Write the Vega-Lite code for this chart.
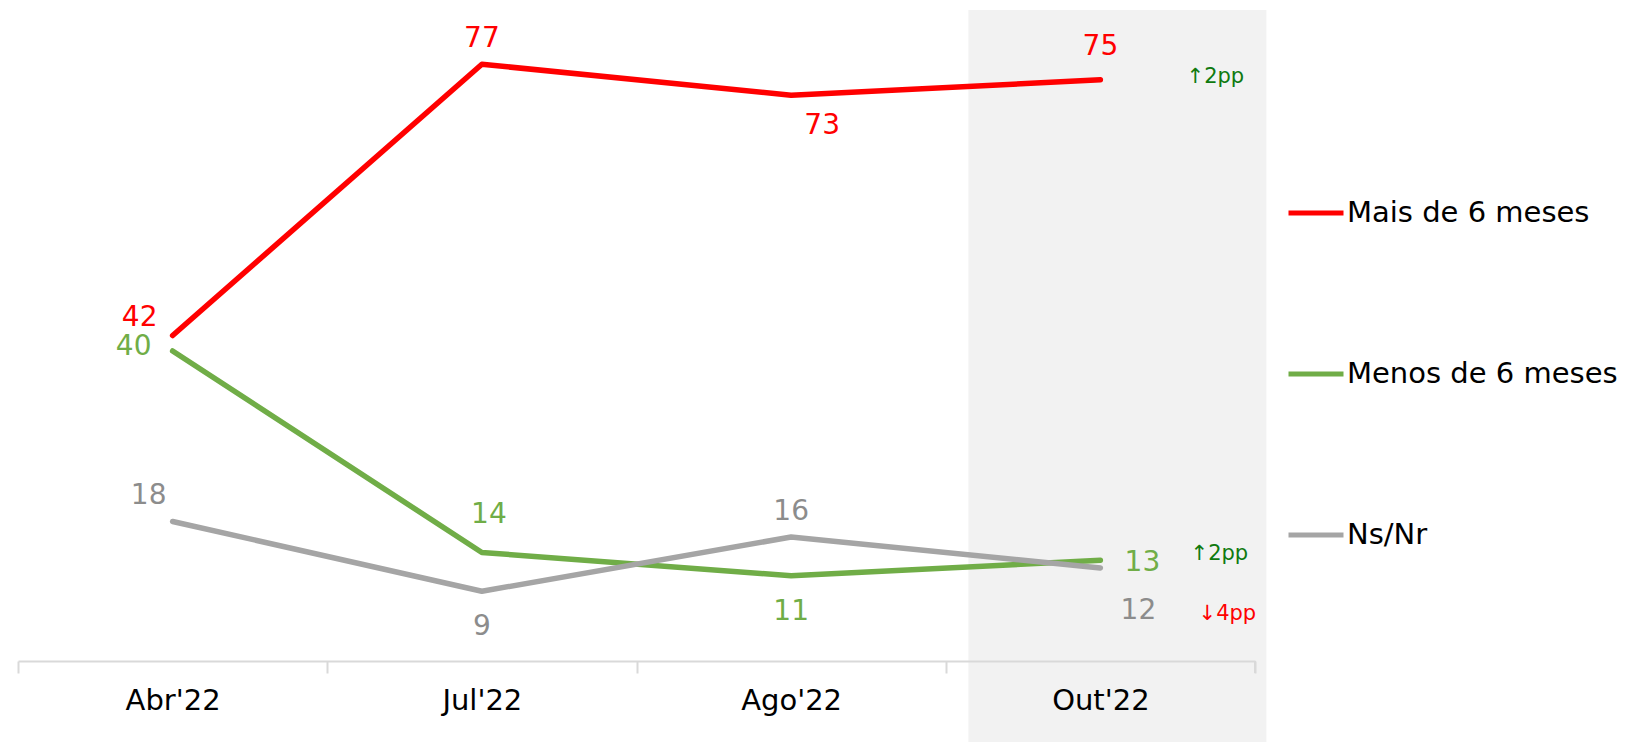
{
  "$schema": "https://vega.github.io/schema/vega-lite/v6.json",
  "width": 1237,
  "height": 651,
  "autosize": {"type": "none"},
  "padding": {"left": 18, "top": 10, "right": 384, "bottom": 81},
  "background": "#ffffff",
  "config": {"view": {"stroke": null}, "font": "DejaVu Sans"},
  "data": {
    "values": [
      {"mes": "Abr'22", "serie": "Mais de 6 meses", "valor": 42, "var": null},
      {"mes": "Jul'22", "serie": "Mais de 6 meses", "valor": 77, "var": null},
      {"mes": "Ago'22", "serie": "Mais de 6 meses", "valor": 73, "var": null},
      {"mes": "Out'22", "serie": "Mais de 6 meses", "valor": 75, "var": "↑2pp"},
      {"mes": "Abr'22", "serie": "Menos de 6 meses", "valor": 40, "var": null},
      {"mes": "Jul'22", "serie": "Menos de 6 meses", "valor": 14, "var": null},
      {"mes": "Ago'22", "serie": "Menos de 6 meses", "valor": 11, "var": null},
      {"mes": "Out'22", "serie": "Menos de 6 meses", "valor": 13, "var": "↑2pp"},
      {"mes": "Abr'22", "serie": "Ns/Nr", "valor": 18, "var": null},
      {"mes": "Jul'22", "serie": "Ns/Nr", "valor": 9, "var": null},
      {"mes": "Ago'22", "serie": "Ns/Nr", "valor": 16, "var": null},
      {"mes": "Out'22", "serie": "Ns/Nr", "valor": 12, "var": "↓4pp"}
    ]
  },
  "encoding": {
    "x": {
      "field": "mes",
      "type": "ordinal",
      "sort": ["Abr'22", "Jul'22", "Ago'22", "Out'22"],
      "scale": {"paddingInner": 0, "paddingOuter": 0},
      "axis": {
        "title": null,
        "labelAngle": 0,
        "labelFont": "DejaVu Sans",
        "labelFontSize": 29,
        "labelColor": "#000000",
        "labelPadding": 13,
        "domainColor": "#d9d9d9",
        "domainWidth": 2,
        "tickColor": "#d9d9d9",
        "tickWidth": 2,
        "tickSize": 12,
        "tickBand": "extent",
        "grid": false,
        "zindex": 1
      }
    },
    "y": {
      "field": "valor",
      "type": "quantitative",
      "scale": {"domain": [0, 84], "nice": false, "zero": true},
      "axis": null
    }
  },
  "layer": [
    {
      "transform": [{"filter": "datum.mes === \"Out'22\" && datum.serie === 'Ns/Nr'"}],
      "mark": {"type": "bar", "color": "#f2f2f2", "width": 298, "xOffset": 17, "clip": false},
      "encoding": {
        "y": {"datum": 84},
        "y2": {"datum": -10.5}
      }
    },
    {
      "transform": [{"filter": "datum.mes === \"Out'22\" && datum.serie === 'Ns/Nr'"}],
      "mark": {"type": "rule", "color": "#d9d9d9", "strokeWidth": 2, "clip": false},
      "encoding": {
        "x": {"field": "mes", "type": "ordinal", "sort": ["Abr'22", "Jul'22", "Ago'22", "Out'22"], "bandPosition": 1},
        "y": {"datum": 0},
        "y2": {"datum": -1.55}
      }
    },
    {
      "mark": {"type": "line", "strokeWidth": 5.5, "strokeCap": "round", "strokeJoin": "round"},
      "encoding": {
        "color": {
          "field": "serie",
          "type": "nominal",
          "scale": {
            "domain": ["Mais de 6 meses", "Menos de 6 meses", "Ns/Nr"],
            "range": ["#ff0000", "#70ad47", "#a5a5a5"]
          },
          "legend": {
            "title": null,
            "orient": "none",
            "legendX": 1268,
            "legendY": 173,
            "symbolType": "stroke",
            "symbolSize": 3025,
            "symbolStrokeWidth": 5,
            "labelFont": "DejaVu Sans",
            "labelFontSize": 29,
            "labelColor": "#000000",
            "labelOffset": 1,
            "rowPadding": 116,
            "padding": 0,
            "labelLimit": 400
          }
        }
      }
    },
    {
      "mark": {"type": "text", "fontSize": 28, "font": "DejaVu Sans", "baseline": "middle", "align": "center", "dy": -25},
      "transform": [{"filter": "(datum.serie === 'Mais de 6 meses' && datum.mes === \"Jul'22\") || (datum.serie === 'Ns/Nr' && datum.mes === \"Ago'22\")"}],
      "encoding": {
        "text": {"field": "valor", "type": "quantitative"},
        "color": {"condition": [{"test": "datum.serie === 'Mais de 6 meses'", "value": "#ff0000"}], "value": "#8c8c8c"}
      }
    },
    {
      "mark": {"type": "text", "fontSize": 28, "font": "DejaVu Sans", "baseline": "middle", "align": "center", "dy": -33},
      "transform": [{"filter": "datum.serie === 'Mais de 6 meses' && datum.mes === \"Out'22\""}],
      "encoding": {
        "text": {"field": "valor", "type": "quantitative"},
        "color": {"value": "#ff0000"}
      }
    },
    {
      "mark": {"type": "text", "fontSize": 28, "font": "DejaVu Sans", "baseline": "middle", "align": "center", "dx": 7, "dy": -38},
      "transform": [{"filter": "datum.serie === 'Menos de 6 meses' && datum.mes === \"Jul'22\""}],
      "encoding": {
        "text": {"field": "valor", "type": "quantitative"},
        "color": {"value": "#70ad47"}
      }
    },
    {
      "mark": {"type": "text", "fontSize": 28, "font": "DejaVu Sans", "baseline": "middle", "align": "center", "dy": 36},
      "transform": [{"filter": "(datum.serie === 'Menos de 6 meses' && datum.mes === \"Ago'22\") || (datum.serie === 'Ns/Nr' && datum.mes === \"Jul'22\")"}],
      "encoding": {
        "text": {"field": "valor", "type": "quantitative"},
        "color": {"condition": [{"test": "datum.serie === 'Menos de 6 meses'", "value": "#70ad47"}], "value": "#8c8c8c"}
      }
    },
    {
      "mark": {"type": "text", "fontSize": 28, "font": "DejaVu Sans", "baseline": "middle", "align": "center", "dx": 31, "dy": 31},
      "transform": [{"filter": "datum.serie === 'Mais de 6 meses' && datum.mes === \"Ago'22\""}],
      "encoding": {
        "text": {"field": "valor", "type": "quantitative"},
        "color": {"value": "#ff0000"}
      }
    },
    {
      "mark": {"type": "text", "fontSize": 28, "font": "DejaVu Sans", "baseline": "middle", "align": "center", "dx": -33, "dy": -18},
      "transform": [{"filter": "datum.serie === 'Mais de 6 meses' && datum.mes === \"Abr'22\""}],
      "encoding": {
        "text": {"field": "valor", "type": "quantitative"},
        "color": {"value": "#ff0000"}
      }
    },
    {
      "mark": {"type": "text", "fontSize": 28, "font": "DejaVu Sans", "baseline": "middle", "align": "center", "dx": -39, "dy": -4},
      "transform": [{"filter": "datum.serie === 'Menos de 6 meses' && datum.mes === \"Abr'22\""}],
      "encoding": {
        "text": {"field": "valor", "type": "quantitative"},
        "color": {"value": "#70ad47"}
      }
    },
    {
      "mark": {"type": "text", "fontSize": 28, "font": "DejaVu Sans", "baseline": "middle", "align": "center", "dx": -24, "dy": -26},
      "transform": [{"filter": "datum.serie === 'Ns/Nr' && datum.mes === \"Abr'22\""}],
      "encoding": {
        "text": {"field": "valor", "type": "quantitative"},
        "color": {"value": "#8c8c8c"}
      }
    },
    {
      "mark": {"type": "text", "fontSize": 28, "font": "DejaVu Sans", "baseline": "middle", "align": "center", "dx": 42, "dy": 3},
      "transform": [{"filter": "datum.serie === 'Menos de 6 meses' && datum.mes === \"Out'22\""}],
      "encoding": {
        "text": {"field": "valor", "type": "quantitative"},
        "color": {"value": "#70ad47"}
      }
    },
    {
      "mark": {"type": "text", "fontSize": 28, "font": "DejaVu Sans", "baseline": "middle", "align": "center", "dx": 38, "dy": 43},
      "transform": [{"filter": "datum.serie === 'Ns/Nr' && datum.mes === \"Out'22\""}],
      "encoding": {
        "text": {"field": "valor", "type": "quantitative"},
        "color": {"value": "#8c8c8c"}
      }
    },
    {
      "mark": {"type": "text", "fontSize": 21, "font": "DejaVu Sans", "baseline": "middle", "align": "center", "dx": 115, "dy": -3},
      "transform": [{"filter": "datum.var != null && datum.serie === 'Mais de 6 meses'"}],
      "encoding": {
        "text": {"field": "var", "type": "nominal"},
        "color": {"value": "#0f7a0f"}
      }
    },
    {
      "mark": {"type": "text", "fontSize": 21, "font": "DejaVu Sans", "baseline": "middle", "align": "center", "dx": 119, "dy": -6},
      "transform": [{"filter": "datum.var != null && datum.serie === 'Menos de 6 meses'"}],
      "encoding": {
        "text": {"field": "var", "type": "nominal"},
        "color": {"value": "#0f7a0f"}
      }
    },
    {
      "mark": {"type": "text", "fontSize": 21, "font": "DejaVu Sans", "baseline": "middle", "align": "center", "dx": 127, "dy": 46},
      "transform": [{"filter": "datum.var != null && datum.serie === 'Ns/Nr'"}],
      "encoding": {
        "text": {"field": "var", "type": "nominal"},
        "color": {"value": "#ff0000"}
      }
    }
  ]
}
